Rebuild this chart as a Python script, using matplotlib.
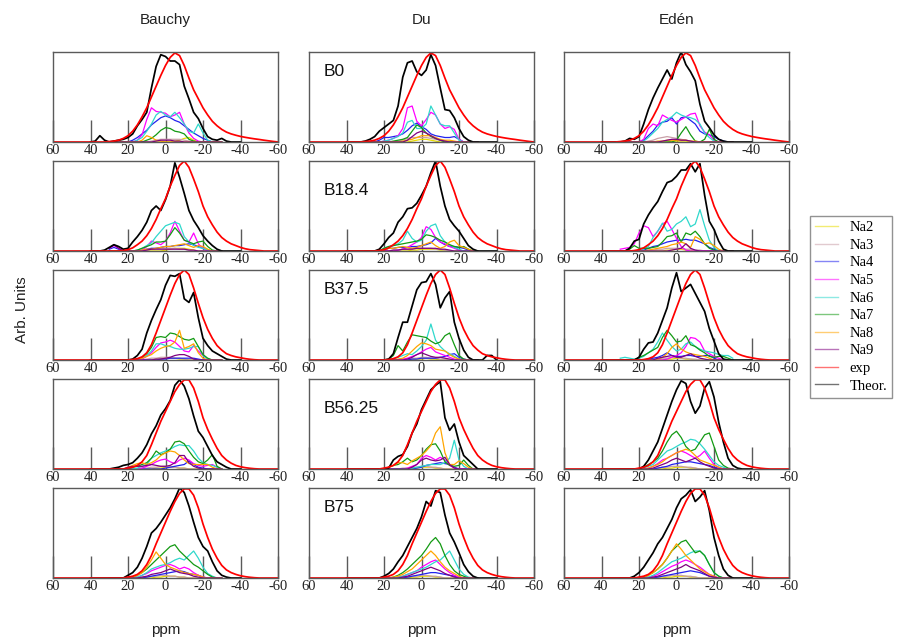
import numpy as np
import matplotlib
matplotlib.use("Agg")
import matplotlib.pyplot as plt
from matplotlib.lines import Line2D

# ---------------------------------------------------------------------------
# Sampling grids (ppm)
# ---------------------------------------------------------------------------
PPM_EXP = np.arange(60, -60.1, -2.5)     # experimental spectra, 49 points
PPM_THEOR = np.arange(40, -40.1, -2.5)   # total theoretical spectra, 33 points
PPM_NA = np.arange(30, -30.1, -2.5)      # per-coordination contributions, 25 points

SERIES = ["Na2", "Na3", "Na4", "Na5", "Na6", "Na7", "Na8", "Na9"]
SERIES_COLORS = ["#e8dc00", "#c9a0a8", "#2222ee", "#ff00ff",
                 "#30d8cc", "#139a13", "#ffa500", "#800080"]
COLUMNS = ["Bauchy", "Du", "Edén"]
ROWS = ["B0", "B18.4", "B37.5", "B56.25", "B75"]
TICKS = [60, 40, 20, 0, -20, -40, -60]
TICK_LABELS = ["60", "40", "20", "0", "-20", "-40", "-60"]

# ---------------------------------------------------------------------------
# Experimental spectra (one per composition)
# ---------------------------------------------------------------------------
EXP_B0 = [0, 0, 0, 0, 0, 0, 0, 0, 0, 0, 0, 0,
          0.005, 0.01, 0.02, 0.04, 0.07, 0.12, 0.19, 0.28, 0.38, 0.5, 0.62, 0.74,
          0.85, 0.94, 0.99, 0.96, 0.85, 0.71, 0.58, 0.48, 0.38, 0.3, 0.23, 0.18,
          0.14, 0.11, 0.09, 0.075, 0.062, 0.052, 0.043, 0.035, 0.028, 0.02, 0.013, 0.006, 0]
EXP_B18 = [0, 0, 0, 0, 0, 0, 0, 0, 0, 0, 0, 0, 0, 0, 0,
           0.005, 0.015, 0.035, 0.07, 0.11, 0.17, 0.25, 0.35, 0.47, 0.58, 0.72, 0.84,
           0.95, 1.0, 0.93, 0.8, 0.66, 0.5, 0.38, 0.29, 0.21, 0.15, 0.11, 0.08, 0.06,
           0.04, 0.025, 0.015, 0.01, 0.005, 0, 0, 0, 0]
EXP_B37 = [0, 0, 0, 0, 0, 0, 0, 0, 0, 0, 0, 0, 0, 0, 0, 0, 0,
           0.005, 0.015, 0.035, 0.08, 0.17, 0.3, 0.44, 0.58, 0.72, 0.85, 0.95, 1.0,
           0.95, 0.8, 0.63, 0.47, 0.34, 0.24, 0.16, 0.11, 0.07, 0.05, 0.035, 0.025,
           0.015, 0.008, 0.003, 0, 0, 0, 0, 0]
EXP_B56 = [0, 0, 0, 0, 0, 0, 0, 0, 0, 0, 0, 0, 0, 0, 0, 0,
           0.01, 0.02, 0.04, 0.08, 0.15, 0.27, 0.4, 0.53, 0.64, 0.75, 0.86, 0.94,
           0.99, 0.99, 0.9, 0.75, 0.57, 0.44, 0.33, 0.23, 0.15, 0.1, 0.065, 0.04,
           0.025, 0.015, 0.008, 0.003, 0, 0, 0, 0, 0]
EXP_B75 = [0, 0, 0, 0, 0, 0, 0, 0, 0, 0, 0, 0, 0, 0, 0, 0,
           0.01, 0.02, 0.04, 0.08, 0.15, 0.25, 0.38, 0.5, 0.62, 0.74, 0.85, 0.94,
           0.99, 0.99, 0.92, 0.78, 0.6, 0.45, 0.32, 0.22, 0.14, 0.09, 0.06, 0.04,
           0.025, 0.015, 0.008, 0.003, 0, 0, 0, 0, 0]

# ---------------------------------------------------------------------------
# Total theoretical spectra
# ---------------------------------------------------------------------------
THEOR_BAUCHY_B0 = [0, 0.01, 0.07, 0.02, 0, 0.01, 0.02, 0.03, 0.05, 0.09, 0.18, 0.25, 0.33,
                   0.6, 0.84, 0.97, 0.95, 0.9, 0.9, 0.86, 0.62, 0.48, 0.33, 0.26, 0.15,
                   0.06, 0.03, 0.02, 0.04, 0.01, 0, 0, 0]
THEOR_DU_B0 = [0, 0, 0, 0, 0.01, 0.03, 0.06, 0.12, 0.16, 0.2, 0.24, 0.4, 0.72, 0.88,
               0.9, 0.78, 0.74, 0.8, 0.97, 0.85, 0.6, 0.36, 0.35, 0.27, 0.15, 0.06,
               0.02, 0, 0, 0, 0, 0, 0]
THEOR_EDEN_B0 = [0, 0, 0, 0, 0, 0.01, 0.04, 0.03, 0.06, 0.2, 0.36, 0.49, 0.6, 0.7, 0.8,
                 0.7, 0.88, 1.0, 0.86, 0.78, 0.68, 0.42, 0.23, 0.16, 0.08, 0.03, 0.01,
                 0, 0, 0, 0, 0, 0]

THEOR_BAUCHY_B18 = [0, 0, 0, 0.01, 0.04, 0.07, 0.05, 0.02, 0.03, 0.1, 0.16, 0.23, 0.32,
                    0.45, 0.5, 0.45, 0.57, 0.72, 0.98, 0.82, 0.64, 0.45, 0.34, 0.26, 0.17,
                    0.11, 0.06, 0.02, 0, 0, 0, 0, 0]
THEOR_DU_B18 = [0, 0, 0, 0, 0, 0, 0, 0.02, 0.08, 0.15, 0.2, 0.32, 0.38, 0.47, 0.48,
                0.53, 0.62, 0.72, 0.87, 1.0, 0.72, 0.5, 0.35, 0.28, 0.22, 0.14, 0.06,
                0.02, 0, 0, 0, 0, 0]
THEOR_EDEN_B18 = [0, 0, 0, 0, 0, 0, 0.03, 0.11, 0.13, 0.3, 0.4, 0.48, 0.55, 0.66, 0.76,
                  0.78, 0.83, 0.9, 0.9, 0.97, 0.88, 0.97, 0.62, 0.33, 0.24, 0.11, 0.02,
                  0, 0, 0, 0, 0, 0]

THEOR_BAUCHY_B37 = [0, 0, 0, 0, 0, 0, 0, 0, 0, 0.01, 0.05, 0.12, 0.3, 0.44, 0.56, 0.67,
                    0.83, 0.94, 0.93, 0.96, 0.68, 0.64, 0.75, 0.47, 0.24, 0.16, 0.1,
                    0.07, 0.04, 0.01, 0, 0, 0]
THEOR_DU_B37 = [0, 0, 0, 0, 0, 0, 0, 0, 0, 0.01, 0.07, 0.25, 0.42, 0.42, 0.6, 0.78, 0.86,
                0.87, 0.96, 0.84, 0.58, 0.69, 0.76, 0.42, 0.24, 0.11, 0.03, 0, 0, 0,
                0.05, 0.05, 0]
THEOR_EDEN_B37 = [0, 0, 0, 0, 0, 0, 0, 0, 0.03, 0.12, 0.19, 0.2, 0.3, 0.44, 0.58, 0.8,
                  0.97, 0.76, 0.8, 0.84, 0.74, 0.64, 0.54, 0.35, 0.21, 0.07, 0.01, 0,
                  0, 0, 0, 0, 0]

THEOR_BAUCHY_B56 = [0, 0, 0, 0, 0, 0.01, 0.02, 0.04, 0.05, 0.07, 0.12, 0.18, 0.27, 0.39,
                    0.48, 0.6, 0.67, 0.76, 0.93, 0.99, 0.92, 0.78, 0.59, 0.42, 0.35,
                    0.25, 0.15, 0.08, 0.05, 0.02, 0, 0, 0]
THEOR_DU_B56 = [0, 0, 0, 0, 0, 0, 0, 0, 0, 0.01, 0.1, 0.14, 0.16, 0.25, 0.4, 0.5, 0.66,
                0.77, 0.88, 0.93, 0.97, 0.57, 0.43, 0.5, 0.3, 0.15, 0.1, 0.05, 0, 0,
                0, 0, 0]
THEOR_EDEN_B56 = [0, 0, 0, 0, 0, 0, 0, 0, 0, 0.03, 0.1, 0.2, 0.3, 0.45, 0.6, 0.75, 0.88,
                  0.98, 0.95, 0.75, 0.62, 0.7, 0.9, 0.97, 0.8, 0.52, 0.3, 0.12, 0.04,
                  0.01, 0, 0, 0]

THEOR_BAUCHY_B75 = [0, 0, 0, 0, 0, 0, 0, 0, 0.03, 0.06, 0.12, 0.22, 0.35, 0.5, 0.55,
                    0.62, 0.7, 0.78, 0.88, 1.0, 0.95, 0.8, 0.62, 0.45, 0.35, 0.3, 0.18,
                    0.08, 0.03, 0.01, 0, 0, 0]
THEOR_DU_B75 = [0, 0, 0, 0, 0, 0, 0, 0, 0.02, 0.05, 0.1, 0.18, 0.25, 0.35, 0.45, 0.55,
                0.68, 0.85, 0.8, 0.97, 0.95, 0.7, 0.5, 0.4, 0.28, 0.15, 0.07, 0.02, 0,
                0, 0, 0, 0]
THEOR_EDEN_B75 = [0, 0, 0, 0, 0, 0, 0, 0.02, 0.06, 0.12, 0.2, 0.28, 0.38, 0.45, 0.55,
                  0.65, 0.78, 0.88, 0.92, 0.98, 0.85, 0.9, 0.97, 0.75, 0.45, 0.25, 0.1,
                  0.03, 0, 0, 0, 0, 0]

# ---------------------------------------------------------------------------
# Contributions of Na2 ... Na9 sites (rows follow SERIES)
# ---------------------------------------------------------------------------
NA_BAUCHY_B0 = [
    [0, 0, 0, 0, 0, 0, 0, 0, 0, 0, 0, 0, 0, 0, 0.01, 0.02, 0.04, 0.05, 0.02, 0, 0, 0, 0, 0, 0],
    [0, 0, 0, 0, 0, 0, 0, 0, 0, 0.01, 0.02, 0.03, 0.03, 0.03, 0.03, 0.03, 0.02, 0.01, 0, 0, 0, 0, 0, 0, 0],
    [0, 0, 0, 0, 0, 0.02, 0.05, 0.09, 0.13, 0.19, 0.23, 0.27, 0.29, 0.27, 0.24, 0.22, 0.18, 0.14, 0.1, 0.07, 0.04, 0.02, 0, 0, 0],
    [0, 0, 0, 0, 0, 0, 0.02, 0.08, 0.25, 0.38, 0.34, 0.33, 0.32, 0.28, 0.3, 0.33, 0.2, 0.1, 0.04, 0.01, 0, 0, 0, 0, 0],
    [0, 0, 0, 0, 0, 0, 0.02, 0.05, 0.12, 0.2, 0.3, 0.34, 0.3, 0.28, 0.33, 0.27, 0.2, 0.12, 0.1, 0.2, 0.1, 0.02, 0, 0, 0],
    [0, 0, 0, 0, 0, 0, 0, 0, 0.02, 0.04, 0.08, 0.13, 0.16, 0.15, 0.12, 0.11, 0.09, 0.03, 0.01, 0, 0, 0, 0, 0, 0],
    [0, 0, 0, 0, 0, 0, 0, 0.02, 0.07, 0.05, 0.02, 0.01, 0, 0, 0, 0, 0, 0, 0, 0, 0, 0, 0, 0, 0],
    [0, 0, 0, 0, 0, 0, 0, 0, 0, 0, 0.01, 0.02, 0.02, 0.02, 0.01, 0.01, 0, 0, 0, 0, 0, 0, 0, 0, 0],
]
NA_DU_B0 = [
    [0, 0, 0, 0, 0, 0, 0, 0, 0, 0, 0.01, 0.02, 0.03, 0.03, 0.02, 0.01, 0, 0, 0, 0, 0, 0, 0, 0, 0],
    [0, 0, 0, 0, 0, 0, 0, 0.01, 0.02, 0.04, 0.05, 0.05, 0.05, 0.05, 0.04, 0.03, 0.02, 0.01, 0, 0, 0, 0, 0, 0, 0],
    [0, 0, 0, 0.02, 0.05, 0.05, 0.06, 0.07, 0.09, 0.13, 0.18, 0.21, 0.17, 0.14, 0.09, 0.07, 0.06, 0.05, 0.05, 0.06, 0.03, 0, 0, 0, 0],
    [0, 0, 0, 0, 0.01, 0.02, 0.04, 0.07, 0.15, 0.38, 0.4, 0.23, 0.18, 0.25, 0.33, 0.3, 0.2, 0.15, 0.17, 0.14, 0.03, 0, 0, 0, 0],
    [0, 0, 0, 0, 0.01, 0.02, 0.04, 0.06, 0.1, 0.22, 0.24, 0.15, 0.15, 0.2, 0.4, 0.3, 0.2, 0.18, 0.18, 0.1, 0.02, 0, 0, 0, 0],
    [0, 0, 0, 0, 0, 0, 0.01, 0.02, 0.03, 0.05, 0.12, 0.19, 0.16, 0.1, 0.06, 0.04, 0.02, 0, 0, 0, 0, 0, 0, 0, 0],
    [0, 0, 0, 0, 0, 0, 0, 0, 0.01, 0.02, 0.03, 0.05, 0.07, 0.07, 0.07, 0.05, 0.03, 0.02, 0.02, 0.01, 0, 0, 0, 0, 0],
    [0, 0, 0, 0, 0, 0, 0, 0, 0, 0.02, 0.06, 0.1, 0.12, 0.1, 0.07, 0.04, 0.02, 0.01, 0, 0, 0, 0, 0, 0, 0],
]
NA_EDEN_B0 = [
    [0, 0, 0, 0, 0, 0, 0, 0, 0, 0, 0, 0.01, 0.01, 0.01, 0.01, 0, 0, 0, 0, 0, 0, 0, 0, 0, 0],
    [0, 0, 0, 0, 0, 0, 0.01, 0.02, 0.04, 0.05, 0.06, 0.05, 0.04, 0.03, 0.02, 0.01, 0, 0, 0, 0, 0, 0, 0, 0, 0],
    [0, 0, 0, 0, 0, 0.02, 0.07, 0.12, 0.19, 0.22, 0.23, 0.27, 0.2, 0.27, 0.28, 0.24, 0.2, 0.12, 0.09, 0.08, 0.06, 0.03, 0.01, 0, 0],
    [0, 0, 0, 0, 0, 0.03, 0.15, 0.2, 0.18, 0.3, 0.27, 0.24, 0.22, 0.25, 0.28, 0.31, 0.32, 0.18, 0.11, 0.08, 0.02, 0, 0, 0, 0],
    [0, 0, 0, 0, 0, 0.01, 0.05, 0.1, 0.15, 0.22, 0.25, 0.28, 0.33, 0.3, 0.28, 0.27, 0.25, 0.2, 0.1, 0.05, 0.01, 0, 0, 0, 0],
    [0, 0, 0, 0, 0, 0, 0, 0, 0, 0, 0, 0, 0.02, 0.1, 0.17, 0.08, 0.01, 0, 0.03, 0.14, 0.03, 0, 0, 0, 0],
    [0, 0, 0, 0, 0, 0, 0, 0, 0.01, 0.01, 0.02, 0.02, 0.02, 0.02, 0.02, 0.01, 0.01, 0, 0, 0, 0, 0, 0, 0, 0],
    [0, 0, 0, 0, 0, 0, 0, 0, 0, 0.01, 0.02, 0.03, 0.03, 0.02, 0.02, 0.01, 0, 0, 0, 0, 0, 0, 0, 0, 0],
]

NA_BAUCHY_B18 = [
    [0, 0, 0, 0, 0, 0, 0, 0, 0, 0, 0, 0, 0.01, 0.02, 0.03, 0.03, 0.03, 0.02, 0.01, 0, 0, 0, 0, 0, 0],
    [0, 0, 0, 0, 0, 0, 0, 0, 0.01, 0.02, 0.03, 0.03, 0.03, 0.03, 0.03, 0.02, 0.02, 0.01, 0, 0, 0, 0, 0, 0, 0],
    [0.02, 0.04, 0.02, 0, 0, 0, 0, 0.01, 0.02, 0.03, 0.03, 0.04, 0.05, 0.05, 0.06, 0.06, 0.07, 0.08, 0.07, 0.05, 0.03, 0.01, 0, 0, 0],
    [0.03, 0.06, 0.03, 0, 0, 0, 0, 0.01, 0.05, 0.11, 0.09, 0.07, 0.11, 0.2, 0.33, 0.22, 0.12, 0.1, 0.2, 0.08, 0.03, 0, 0, 0, 0],
    [0, 0, 0, 0, 0, 0, 0.01, 0.03, 0.06, 0.09, 0.16, 0.22, 0.28, 0.3, 0.32, 0.3, 0.16, 0.1, 0.06, 0.04, 0.03, 0.01, 0, 0, 0],
    [0, 0, 0, 0, 0, 0, 0.01, 0.03, 0.05, 0.07, 0.1, 0.1, 0.11, 0.18, 0.26, 0.2, 0.12, 0.1, 0.08, 0.1, 0.11, 0.05, 0.01, 0, 0],
    [0, 0, 0, 0, 0, 0, 0, 0.01, 0.02, 0.02, 0.03, 0.04, 0.05, 0.05, 0.06, 0.07, 0.08, 0.06, 0.04, 0.06, 0.05, 0.02, 0, 0, 0],
    [0.03, 0.07, 0.03, 0, 0, 0, 0, 0, 0.01, 0.02, 0.02, 0.02, 0.02, 0.02, 0.02, 0.02, 0.02, 0.01, 0.01, 0, 0, 0, 0, 0, 0],
]
NA_DU_B18 = [
    [0, 0, 0, 0, 0, 0, 0, 0, 0, 0, 0.01, 0.01, 0.02, 0.02, 0.02, 0.02, 0.01, 0.01, 0, 0, 0, 0, 0, 0, 0],
    [0, 0, 0, 0, 0, 0, 0.01, 0.01, 0.02, 0.02, 0.03, 0.03, 0.03, 0.03, 0.03, 0.02, 0.02, 0.01, 0, 0, 0, 0, 0, 0, 0],
    [0, 0, 0, 0, 0.01, 0.03, 0.03, 0.04, 0.04, 0.04, 0.05, 0.05, 0.06, 0.07, 0.09, 0.14, 0.1, 0.07, 0.05, 0.05, 0.04, 0.03, 0.01, 0, 0],
    [0, 0, 0, 0, 0, 0, 0, 0.01, 0.02, 0.04, 0.07, 0.1, 0.15, 0.27, 0.24, 0.15, 0.1, 0.08, 0.05, 0.03, 0.01, 0, 0, 0, 0],
    [0, 0, 0, 0, 0.03, 0.05, 0.06, 0.08, 0.12, 0.22, 0.14, 0.1, 0.12, 0.22, 0.28, 0.3, 0.17, 0.1, 0.07, 0.04, 0.02, 0, 0, 0, 0],
    [0, 0, 0, 0, 0.03, 0.05, 0.06, 0.07, 0.08, 0.09, 0.1, 0.11, 0.13, 0.18, 0.17, 0.15, 0.12, 0.1, 0.07, 0.05, 0.04, 0.05, 0.02, 0, 0],
    [0, 0, 0, 0, 0.01, 0.03, 0.03, 0.04, 0.05, 0.04, 0.03, 0.04, 0.06, 0.08, 0.1, 0.06, 0.03, 0.05, 0.1, 0.12, 0.06, 0.04, 0.02, 0, 0],
    [0, 0, 0, 0, 0, 0, 0.01, 0.01, 0.02, 0.02, 0.02, 0.03, 0.03, 0.03, 0.03, 0.03, 0.02, 0.02, 0.01, 0, 0, 0, 0, 0, 0],
]
NA_EDEN_B18 = [
    [0, 0, 0, 0, 0, 0, 0, 0, 0, 0, 0.01, 0.01, 0.02, 0.02, 0.01, 0.01, 0, 0, 0, 0, 0, 0, 0, 0, 0],
    [0, 0, 0, 0, 0, 0, 0.01, 0.01, 0.02, 0.02, 0.03, 0.03, 0.03, 0.03, 0.02, 0.02, 0.01, 0.01, 0, 0, 0, 0, 0, 0, 0],
    [0, 0, 0, 0, 0, 0.01, 0.03, 0.05, 0.06, 0.08, 0.1, 0.11, 0.12, 0.12, 0.13, 0.12, 0.12, 0.1, 0.08, 0.04, 0.02, 0, 0, 0, 0],
    [0.02, 0.03, 0.04, 0.08, 0.2, 0.28, 0.26, 0.16, 0.22, 0.3, 0.33, 0.24, 0.14, 0.05, 0.01, 0, 0, 0, 0, 0, 0, 0, 0, 0, 0],
    [0, 0, 0, 0, 0, 0.02, 0.05, 0.15, 0.22, 0.31, 0.22, 0.24, 0.3, 0.33, 0.38, 0.27, 0.3, 0.46, 0.28, 0.12, 0.04, 0, 0, 0, 0],
    [0, 0, 0.02, 0.06, 0.03, 0.03, 0.03, 0.04, 0.05, 0.1, 0.16, 0.17, 0.2, 0.1, 0.2, 0.18, 0.22, 0.16, 0.08, 0.03, 0.01, 0, 0, 0, 0],
    [0, 0, 0, 0, 0, 0, 0.01, 0.02, 0.03, 0.04, 0.05, 0.07, 0.08, 0.1, 0.08, 0.04, 0.16, 0.13, 0.08, 0.09, 0.06, 0.02, 0, 0, 0],
    [0, 0, 0, 0, 0, 0, 0, 0, 0, 0, 0, 0.01, 0.02, 0.03, 0.08, 0.03, 0.01, 0, 0, 0, 0, 0, 0, 0, 0],
]

NA_BAUCHY_B37 = [
    [0, 0, 0, 0, 0, 0, 0, 0, 0, 0, 0.01, 0.01, 0.02, 0.02, 0.02, 0.01, 0.01, 0, 0, 0, 0, 0, 0, 0, 0],
    [0, 0, 0, 0, 0, 0, 0, 0, 0.01, 0.02, 0.02, 0.03, 0.03, 0.03, 0.02, 0.02, 0.01, 0, 0, 0, 0, 0, 0, 0, 0],
    [0, 0, 0, 0, 0, 0, 0, 0, 0, 0, 0, 0.01, 0.01, 0.02, 0.02, 0.02, 0.02, 0.02, 0.02, 0.01, 0, 0, 0, 0, 0],
    [0, 0, 0, 0, 0, 0, 0, 0.01, 0.04, 0.08, 0.14, 0.19, 0.2, 0.22, 0.2, 0.15, 0.1, 0.09, 0.16, 0.1, 0.05, 0.01, 0, 0, 0],
    [0, 0, 0, 0, 0, 0, 0, 0.02, 0.05, 0.1, 0.18, 0.18, 0.16, 0.15, 0.13, 0.12, 0.12, 0.13, 0.15, 0.15, 0.05, 0.01, 0, 0, 0],
    [0, 0, 0, 0, 0, 0, 0.01, 0.03, 0.07, 0.14, 0.25, 0.26, 0.25, 0.3, 0.29, 0.26, 0.23, 0.22, 0.24, 0.15, 0.06, 0.02, 0, 0, 0],
    [0, 0, 0, 0, 0, 0, 0.01, 0.02, 0.04, 0.06, 0.1, 0.13, 0.15, 0.16, 0.2, 0.33, 0.13, 0.15, 0.18, 0.08, 0.02, 0, 0, 0, 0],
    [0, 0, 0, 0, 0, 0, 0, 0, 0, 0, 0.01, 0.01, 0.02, 0.03, 0.05, 0.06, 0.06, 0.04, 0.01, 0, 0, 0, 0, 0, 0],
]
NA_DU_B37 = [
    [0, 0, 0, 0, 0, 0, 0, 0, 0, 0, 0, 0.01, 0.01, 0.02, 0.01, 0.01, 0, 0, 0, 0, 0, 0, 0, 0, 0],
    [0, 0, 0, 0, 0, 0, 0, 0, 0.01, 0.01, 0.02, 0.02, 0.03, 0.03, 0.02, 0.02, 0.01, 0.01, 0, 0, 0, 0, 0, 0, 0],
    [0, 0, 0, 0, 0, 0, 0, 0, 0, 0, 0.01, 0.01, 0.02, 0.02, 0.02, 0.02, 0.03, 0.04, 0.06, 0.07, 0.03, 0.01, 0, 0, 0],
    [0, 0, 0, 0, 0, 0, 0, 0, 0.01, 0.02, 0.04, 0.06, 0.09, 0.12, 0.14, 0.09, 0.07, 0.05, 0.03, 0.01, 0, 0, 0, 0, 0],
    [0, 0, 0, 0, 0, 0, 0.01, 0.03, 0.05, 0.07, 0.06, 0.1, 0.15, 0.22, 0.4, 0.22, 0.15, 0.1, 0.07, 0.04, 0.01, 0, 0, 0, 0],
    [0, 0, 0, 0, 0, 0.01, 0.05, 0.16, 0.1, 0.2, 0.28, 0.27, 0.26, 0.25, 0.21, 0.18, 0.2, 0.27, 0.3, 0.17, 0.05, 0.01, 0, 0, 0],
    [0, 0, 0, 0, 0, 0, 0, 0.01, 0.02, 0.05, 0.1, 0.15, 0.19, 0.18, 0.16, 0.12, 0.11, 0.1, 0.06, 0.03, 0.01, 0, 0, 0, 0],
    [0, 0, 0, 0, 0, 0, 0, 0, 0, 0.01, 0.03, 0.06, 0.08, 0.06, 0.04, 0.03, 0.03, 0.02, 0.01, 0, 0, 0, 0, 0, 0],
]
NA_EDEN_B37 = [
    [0, 0, 0, 0, 0, 0, 0, 0, 0, 0, 0.01, 0.01, 0.02, 0.02, 0.01, 0.01, 0, 0, 0, 0, 0, 0, 0, 0, 0],
    [0, 0, 0, 0, 0, 0, 0, 0.01, 0.01, 0.02, 0.02, 0.03, 0.03, 0.02, 0.02, 0.01, 0.01, 0, 0, 0, 0, 0, 0, 0, 0],
    [0, 0, 0, 0, 0, 0, 0.01, 0.02, 0.03, 0.05, 0.08, 0.05, 0.04, 0.04, 0.05, 0.05, 0.04, 0.04, 0.05, 0.05, 0.02, 0, 0, 0, 0],
    [0, 0, 0, 0, 0, 0, 0, 0, 0, 0, 0.01, 0.03, 0.05, 0.08, 0.15, 0.25, 0.24, 0.2, 0.1, 0.07, 0.04, 0.02, 0, 0, 0],
    [0.02, 0.03, 0.02, 0.01, 0.02, 0.04, 0.08, 0.12, 0.2, 0.3, 0.22, 0.15, 0.1, 0.12, 0.18, 0.2, 0.15, 0.12, 0.1, 0.09, 0.08, 0.06, 0.05, 0.05, 0.02],
    [0, 0, 0, 0, 0.03, 0.05, 0.08, 0.11, 0.14, 0.25, 0.33, 0.27, 0.2, 0.21, 0.27, 0.17, 0.15, 0.11, 0.08, 0.04, 0.03, 0.04, 0.04, 0.02, 0],
    [0, 0, 0, 0, 0, 0, 0, 0, 0.01, 0.03, 0.07, 0.14, 0.18, 0.12, 0.09, 0.07, 0.06, 0.05, 0.04, 0.02, 0, 0, 0, 0, 0],
    [0, 0, 0, 0, 0, 0, 0, 0, 0.02, 0.03, 0.04, 0.05, 0.03, 0.03, 0.05, 0.07, 0.04, 0.02, 0.01, 0, 0, 0, 0, 0, 0],
]

NA_BAUCHY_B56 = [
    [0, 0, 0, 0, 0, 0, 0, 0, 0, 0, 0.01, 0.01, 0.02, 0.02, 0.02, 0.01, 0.01, 0, 0, 0, 0, 0, 0, 0, 0],
    [0, 0, 0, 0, 0, 0, 0, 0.01, 0.01, 0.02, 0.02, 0.03, 0.03, 0.02, 0.02, 0.01, 0.01, 0, 0, 0, 0, 0, 0, 0, 0],
    [0, 0, 0, 0, 0, 0, 0, 0, 0, 0, 0, 0, 0.01, 0.02, 0.03, 0.04, 0.05, 0.09, 0.05, 0.02, 0.01, 0, 0, 0, 0],
    [0, 0, 0, 0, 0, 0, 0, 0.01, 0.03, 0.05, 0.08, 0.1, 0.11, 0.08, 0.06, 0.1, 0.12, 0.1, 0.06, 0.04, 0.03, 0.04, 0.05, 0.02, 0],
    [0, 0, 0, 0, 0, 0, 0.01, 0.03, 0.05, 0.12, 0.15, 0.18, 0.2, 0.22, 0.25, 0.27, 0.26, 0.26, 0.2, 0.12, 0.07, 0.05, 0.04, 0.02, 0],
    [0, 0, 0, 0, 0, 0.02, 0.03, 0.05, 0.07, 0.12, 0.2, 0.16, 0.18, 0.22, 0.3, 0.31, 0.28, 0.2, 0.13, 0.08, 0.06, 0.1, 0.16, 0.03, 0],
    [0, 0, 0, 0, 0.02, 0.04, 0.06, 0.07, 0.05, 0.07, 0.1, 0.15, 0.18, 0.2, 0.19, 0.15, 0.1, 0.06, 0.05, 0.05, 0.05, 0.05, 0.02, 0, 0],
    [0, 0, 0, 0, 0.02, 0.03, 0.03, 0.03, 0.04, 0.05, 0.04, 0.03, 0.03, 0.04, 0.07, 0.15, 0.15, 0.07, 0.03, 0.01, 0, 0, 0, 0, 0],
]
NA_DU_B56 = [
    [0, 0, 0, 0, 0, 0, 0, 0, 0, 0, 0.01, 0.01, 0.02, 0.02, 0.02, 0.01, 0.01, 0, 0, 0, 0, 0, 0, 0, 0],
    [0, 0, 0, 0, 0, 0, 0, 0, 0.01, 0.01, 0.02, 0.02, 0.03, 0.03, 0.02, 0.02, 0.01, 0, 0, 0, 0, 0, 0, 0, 0],
    [0, 0, 0, 0, 0, 0, 0, 0, 0, 0, 0, 0.01, 0.02, 0.04, 0.05, 0.06, 0.07, 0.06, 0.05, 0.02, 0, 0, 0, 0, 0],
    [0, 0, 0, 0, 0, 0, 0, 0, 0, 0.01, 0.03, 0.05, 0.12, 0.15, 0.13, 0.1, 0.13, 0.1, 0.04, 0.01, 0, 0, 0, 0, 0],
    [0, 0, 0, 0, 0, 0, 0, 0, 0, 0, 0.01, 0.02, 0.03, 0.04, 0.05, 0.05, 0.05, 0.07, 0.12, 0.32, 0.1, 0.03, 0, 0, 0],
    [0, 0, 0, 0, 0, 0.02, 0.04, 0.05, 0.08, 0.12, 0.08, 0.1, 0.15, 0.22, 0.27, 0.28, 0.2, 0.08, 0.04, 0.03, 0.04, 0.1, 0.04, 0, 0],
    [0, 0, 0, 0, 0, 0.02, 0.04, 0.07, 0.07, 0.05, 0.09, 0.12, 0.15, 0.2, 0.26, 0.4, 0.47, 0.18, 0.05, 0.05, 0.09, 0.06, 0.02, 0, 0],
    [0, 0, 0, 0, 0, 0, 0, 0, 0, 0, 0.02, 0.05, 0.1, 0.12, 0.1, 0.09, 0.1, 0.13, 0.05, 0.01, 0, 0, 0, 0, 0],
]
NA_EDEN_B56 = [
    [0, 0, 0, 0, 0, 0, 0, 0, 0, 0, 0.01, 0.01, 0.02, 0.02, 0.02, 0.01, 0.01, 0, 0, 0, 0, 0, 0, 0, 0],
    [0, 0, 0, 0, 0, 0, 0, 0, 0.01, 0.02, 0.02, 0.03, 0.03, 0.03, 0.02, 0.02, 0.01, 0, 0, 0, 0, 0, 0, 0, 0],
    [0, 0, 0, 0, 0, 0, 0, 0, 0.01, 0.02, 0.03, 0.05, 0.06, 0.07, 0.08, 0.08, 0.07, 0.06, 0.05, 0.04, 0.02, 0.01, 0, 0, 0],
    [0, 0, 0, 0, 0, 0, 0.01, 0.03, 0.06, 0.1, 0.12, 0.15, 0.18, 0.2, 0.18, 0.15, 0.12, 0.15, 0.2, 0.12, 0.05, 0.02, 0, 0, 0],
    [0, 0, 0, 0, 0, 0.01, 0.03, 0.05, 0.1, 0.15, 0.2, 0.22, 0.25, 0.28, 0.3, 0.33, 0.32, 0.28, 0.22, 0.15, 0.08, 0.04, 0.02, 0, 0],
    [0, 0, 0, 0, 0, 0.02, 0.05, 0.08, 0.12, 0.2, 0.3, 0.38, 0.42, 0.35, 0.25, 0.2, 0.22, 0.3, 0.38, 0.4, 0.25, 0.1, 0.04, 0.01, 0],
    [0, 0, 0, 0, 0, 0, 0.01, 0.03, 0.05, 0.08, 0.12, 0.15, 0.18, 0.2, 0.22, 0.2, 0.15, 0.1, 0.08, 0.06, 0.04, 0.02, 0, 0, 0],
    [0, 0, 0, 0, 0, 0, 0, 0.01, 0.03, 0.05, 0.07, 0.1, 0.12, 0.1, 0.08, 0.1, 0.12, 0.08, 0.05, 0.03, 0.01, 0, 0, 0, 0],
]

NA_BAUCHY_B75 = [
    [0, 0, 0, 0, 0, 0, 0, 0, 0, 0, 0.01, 0.01, 0.02, 0.02, 0.02, 0.01, 0.01, 0, 0, 0, 0, 0, 0, 0, 0],
    [0, 0, 0, 0, 0, 0, 0, 0.01, 0.01, 0.02, 0.02, 0.03, 0.03, 0.02, 0.02, 0.01, 0.01, 0, 0, 0, 0, 0, 0, 0, 0],
    [0, 0, 0, 0, 0, 0, 0, 0, 0.01, 0.02, 0.03, 0.04, 0.05, 0.06, 0.07, 0.08, 0.07, 0.05, 0.04, 0.03, 0.01, 0, 0, 0, 0],
    [0, 0, 0, 0, 0, 0, 0.01, 0.03, 0.05, 0.08, 0.1, 0.12, 0.14, 0.15, 0.13, 0.1, 0.12, 0.1, 0.06, 0.03, 0.01, 0, 0, 0, 0],
    [0, 0, 0, 0, 0, 0, 0.01, 0.03, 0.06, 0.1, 0.12, 0.14, 0.15, 0.17, 0.2, 0.22, 0.2, 0.25, 0.3, 0.22, 0.12, 0.05, 0.02, 0, 0],
    [0, 0, 0, 0, 0, 0.01, 0.03, 0.06, 0.1, 0.15, 0.2, 0.25, 0.3, 0.35, 0.37, 0.3, 0.25, 0.2, 0.15, 0.12, 0.08, 0.04, 0.01, 0, 0],
    [0, 0, 0, 0, 0, 0.01, 0.03, 0.06, 0.12, 0.2, 0.29, 0.22, 0.15, 0.12, 0.1, 0.08, 0.06, 0.05, 0.04, 0.03, 0.01, 0, 0, 0, 0],
    [0, 0, 0, 0, 0, 0, 0, 0.01, 0.02, 0.04, 0.05, 0.06, 0.08, 0.1, 0.08, 0.06, 0.05, 0.04, 0.02, 0.01, 0, 0, 0, 0, 0],
]
NA_DU_B75 = [
    [0, 0, 0, 0, 0, 0, 0, 0, 0, 0, 0.01, 0.01, 0.02, 0.02, 0.02, 0.01, 0.01, 0, 0, 0, 0, 0, 0, 0, 0],
    [0, 0, 0, 0, 0, 0, 0, 0, 0.01, 0.01, 0.02, 0.02, 0.03, 0.03, 0.02, 0.02, 0.01, 0, 0, 0, 0, 0, 0, 0, 0],
    [0, 0, 0, 0, 0, 0, 0, 0, 0, 0.01, 0.02, 0.03, 0.04, 0.05, 0.06, 0.06, 0.05, 0.04, 0.03, 0.02, 0.01, 0, 0, 0, 0],
    [0, 0, 0, 0, 0, 0, 0, 0.01, 0.02, 0.04, 0.06, 0.08, 0.12, 0.15, 0.18, 0.2, 0.15, 0.1, 0.06, 0.03, 0.01, 0, 0, 0, 0],
    [0, 0, 0, 0, 0, 0, 0, 0.01, 0.02, 0.04, 0.06, 0.08, 0.1, 0.12, 0.15, 0.18, 0.2, 0.25, 0.3, 0.2, 0.1, 0.04, 0.01, 0, 0],
    [0, 0, 0, 0, 0, 0, 0.01, 0.03, 0.06, 0.1, 0.15, 0.2, 0.25, 0.32, 0.4, 0.45, 0.38, 0.25, 0.15, 0.08, 0.04, 0.02, 0, 0, 0],
    [0, 0, 0, 0, 0, 0, 0.01, 0.02, 0.04, 0.07, 0.1, 0.15, 0.2, 0.25, 0.3, 0.25, 0.18, 0.12, 0.08, 0.05, 0.02, 0, 0, 0, 0],
    [0, 0, 0, 0, 0, 0, 0, 0, 0.01, 0.02, 0.04, 0.06, 0.08, 0.1, 0.12, 0.1, 0.08, 0.05, 0.03, 0.01, 0, 0, 0, 0, 0],
]
NA_EDEN_B75 = [
    [0, 0, 0, 0, 0, 0, 0, 0, 0, 0, 0.01, 0.01, 0.02, 0.02, 0.02, 0.01, 0.01, 0, 0, 0, 0, 0, 0, 0, 0],
    [0, 0, 0, 0, 0, 0, 0, 0, 0.01, 0.02, 0.02, 0.03, 0.03, 0.03, 0.02, 0.02, 0.01, 0, 0, 0, 0, 0, 0, 0, 0],
    [0, 0, 0, 0, 0, 0, 0, 0, 0.01, 0.02, 0.03, 0.04, 0.05, 0.06, 0.07, 0.08, 0.07, 0.06, 0.04, 0.02, 0.01, 0, 0, 0, 0],
    [0, 0, 0, 0, 0, 0, 0.01, 0.02, 0.04, 0.07, 0.1, 0.13, 0.15, 0.18, 0.2, 0.18, 0.15, 0.12, 0.08, 0.04, 0.02, 0, 0, 0, 0],
    [0, 0, 0, 0, 0, 0, 0.01, 0.03, 0.06, 0.1, 0.14, 0.18, 0.2, 0.22, 0.25, 0.28, 0.3, 0.3, 0.25, 0.15, 0.06, 0.02, 0, 0, 0],
    [0, 0, 0, 0, 0, 0.01, 0.03, 0.06, 0.1, 0.15, 0.22, 0.3, 0.35, 0.4, 0.42, 0.35, 0.28, 0.3, 0.25, 0.15, 0.06, 0.02, 0, 0, 0],
    [0, 0, 0, 0, 0, 0.01, 0.03, 0.06, 0.1, 0.15, 0.22, 0.3, 0.38, 0.32, 0.25, 0.2, 0.15, 0.1, 0.07, 0.04, 0.02, 0, 0, 0, 0],
    [0, 0, 0, 0, 0, 0, 0, 0.01, 0.02, 0.04, 0.06, 0.08, 0.1, 0.12, 0.15, 0.12, 0.1, 0.08, 0.05, 0.02, 0.01, 0, 0, 0, 0],
]

# ---------------------------------------------------------------------------
# Lookup tables built from the arrays above
# ---------------------------------------------------------------------------
EXP_BY_ROW = [EXP_B0, EXP_B18, EXP_B37, EXP_B56, EXP_B75]
THEOR_GRID = [
    [THEOR_BAUCHY_B0, THEOR_DU_B0, THEOR_EDEN_B0],
    [THEOR_BAUCHY_B18, THEOR_DU_B18, THEOR_EDEN_B18],
    [THEOR_BAUCHY_B37, THEOR_DU_B37, THEOR_EDEN_B37],
    [THEOR_BAUCHY_B56, THEOR_DU_B56, THEOR_EDEN_B56],
    [THEOR_BAUCHY_B75, THEOR_DU_B75, THEOR_EDEN_B75],
]
NA_GRID = [
    [NA_BAUCHY_B0, NA_DU_B0, NA_EDEN_B0],
    [NA_BAUCHY_B18, NA_DU_B18, NA_EDEN_B18],
    [NA_BAUCHY_B37, NA_DU_B37, NA_EDEN_B37],
    [NA_BAUCHY_B56, NA_DU_B56, NA_EDEN_B56],
    [NA_BAUCHY_B75, NA_DU_B75, NA_EDEN_B75],
]

# ---------------------------------------------------------------------------
# Figure
# ---------------------------------------------------------------------------
plt.rcParams["font.family"] = ["Liberation Serif", "DejaVu Serif"]
W, H = 901, 639
fig = plt.figure(figsize=(W / 100, H / 100), dpi=100)

col_left_px = [53, 309, 564]
row_top_px = [52, 161, 270, 379, 488]
panel_w_px, panel_h_px = 225, 90
SPINE = "#5a5a5a"

for r in range(5):
    for c in range(3):
        left = col_left_px[c] / W
        bottom = 1 - (row_top_px[r] + panel_h_px) / H
        ax = fig.add_axes([left, bottom, panel_w_px / W, panel_h_px / H])

        for k, name in enumerate(SERIES):
            ax.plot(PPM_NA, NA_GRID[r][c][k], color=SERIES_COLORS[k], lw=0.9)
        ax.plot(PPM_THEOR, THEOR_GRID[r][c], color="black", lw=1.25)
        ax.plot(PPM_EXP, EXP_BY_ROW[r], color="#ff0000", lw=1.25)

        ax.set_xlim(60, -60)
        ax.set_ylim(0, 1.0)
        ax.set_yticks([])
        ax.set_xticks(TICKS)
        ax.set_xticklabels(TICK_LABELS)
        ax.tick_params(axis="x", direction="in", length=16, width=1.0,
                       color=SPINE, labelsize=10.5, pad=1.5, labelcolor="#222222")
        for s in ax.spines.values():
            s.set_color(SPINE)
            s.set_linewidth(1.0)

        if c == 1:
            ax.text(0.064, 0.78 if r in (0, 2, 4) else 0.67, ROWS[r],
                    transform=ax.transAxes, ha="left", va="center",
                    fontsize=12.5, family="Liberation Sans", color="#111111")

# Column titles and axis captions
for c, title in enumerate(COLUMNS):
    xc = (col_left_px[c] + panel_w_px / 2) / W
    fig.text(xc, 1 - 20 / H, title, ha="center", va="center",
             fontsize=11, family="Liberation Sans", color="#222222")
    fig.text(xc, 1 - 630 / H, "ppm", ha="center", va="center",
             fontsize=11, family="Liberation Sans", color="#222222")

fig.text(22 / W, 1 - 310 / H, "Arb. Units", rotation=90, ha="center", va="center",
         fontsize=11, family="Liberation Sans", color="#222222")

# Legend
handles = [Line2D([], [], color=col, lw=1.0, alpha=0.55)
           for col in SERIES_COLORS]
handles += [Line2D([], [], color="#ff0000", lw=1.0, alpha=0.55),
            Line2D([], [], color="black", lw=1.0, alpha=0.55)]
labels = SERIES + ["exp", "Theor."]
fig.legend(handles, labels, loc="upper left",
           bbox_to_anchor=(810 / W, 1 - 216 / H),
           frameon=True, fancybox=False, edgecolor="#777777",
           fontsize=10.5, handlelength=1.6, handletextpad=0.75,
           labelspacing=0.3, borderpad=0.35, borderaxespad=0)

fig.savefig("out.png", dpi=100)
